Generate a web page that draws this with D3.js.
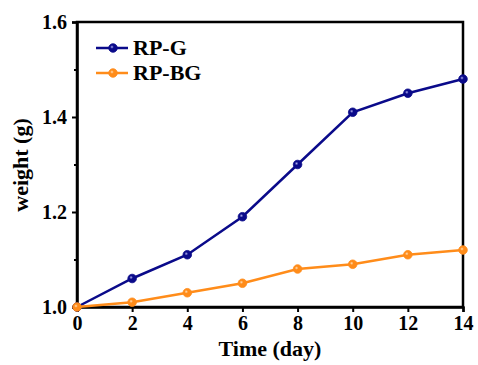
<!DOCTYPE html>
<html><head><meta charset="utf-8">
<script src="https://cdn.jsdelivr.net/npm/d3@7/dist/d3.min.js"></script>
<style>body{margin:0;background:#fff}svg{display:block}</style>
</head><body><svg id="c" width="478" height="365"></svg>
<script>
const days = [0, 2, 4, 6, 8, 10, 12, 14];
const rpG = [1.0, 1.06, 1.11, 1.19, 1.30, 1.41, 1.45, 1.48];
const rpBG = [1.0, 1.01, 1.03, 1.05, 1.08, 1.09, 1.11, 1.12];
const seriesNames = ["RP-G", "RP-BG"];
const xTicks = [0, 2, 4, 6, 8, 10, 12, 14];
const yTicks = [1.0, 1.2, 1.4, 1.6];
const yMinor = [1.1, 1.3, 1.5];
const colors = ["#0a0a8a", "#ff8c1a"];
const lights = ["#b0b0f0", "#ffe0b8"];
const FONT = "Liberation Serif";

const svg = d3.select("#c");
const m = {l: 77, r: 463, t: 22, b: 307};
const x = d3.scaleLinear().domain([0, 14]).range([m.l, m.r]);
const y = d3.scaleLinear().domain([1.0, 1.6]).range([m.b, m.t]);

const defs = svg.append("defs");
colors.forEach((c, i) => {
  const g = defs.append("radialGradient").attr("id", "g" + i).attr("cx", "38%").attr("cy", "38%").attr("r", "60%");
  g.append("stop").attr("offset", "0%").attr("stop-color", lights[i]);
  g.append("stop").attr("offset", "35%").attr("stop-color", c);
  g.append("stop").attr("offset", "100%").attr("stop-color", c);
});

svg.append("rect").attr("x", m.l).attr("y", m.t).attr("width", m.r - m.l).attr("height", m.b - m.t)
  .attr("fill", "none").attr("stroke", "#000").attr("stroke-width", 2.5);

const xAxis = svg.append("g").attr("transform", `translate(0,${m.b})`)
  .call(d3.axisBottom(x).tickValues(xTicks).tickSize(5).tickPadding(4).tickFormat(d3.format("d")));
const yAxis = svg.append("g").attr("transform", `translate(${m.l},0)`)
  .call(d3.axisLeft(y).tickValues(yTicks).tickSize(5).tickPadding(5).tickFormat(d3.format(".1f")));
svg.append("g").attr("transform", `translate(${m.l},0)`)
  .call(d3.axisLeft(y).tickValues(yMinor).tickSize(3).tickFormat(""))
  .call(g => g.select(".domain").remove())
  .selectAll("line").attr("stroke-width", 2);
[xAxis, yAxis].forEach(a => {
  a.attr("font-family", FONT).attr("font-size", 20).attr("font-weight", "bold");
  a.select(".domain").attr("stroke-width", 2.5);
  a.selectAll(".tick line").attr("stroke-width", 2);
  a.selectAll("text").attr("fill", "#000");
});

const data = [rpG, rpBG];
const line = d3.line().x((d, i) => x(days[i])).y(d => y(d));
data.forEach((s, k) => {
  svg.append("path").datum(s).attr("d", line).attr("fill", "none")
    .attr("stroke", colors[k]).attr("stroke-width", 2.5);
  svg.append("g").selectAll("circle").data(s).join("circle")
    .attr("cx", (d, i) => x(days[i])).attr("cy", d => y(d)).attr("r", 4.3)
    .attr("fill", `url(#g${k})`).attr("stroke", colors[k]).attr("stroke-width", 0.8);
});

seriesNames.forEach((n, k) => {
  const ly = 48 + k * 25;
  svg.append("line").attr("x1", 96).attr("x2", 128).attr("y1", ly).attr("y2", ly)
    .attr("stroke", colors[k]).attr("stroke-width", 2.5);
  svg.append("circle").attr("cx", 113).attr("cy", ly).attr("r", 4.3)
    .attr("fill", `url(#g${k})`).attr("stroke", colors[k]).attr("stroke-width", 0.8);
  svg.append("text").attr("x", 133).attr("y", ly + 7).attr("font-family", FONT)
    .attr("font-weight", "bold").attr("font-size", 22).text(n);
});

svg.append("text").attr("x", (m.l + m.r) / 2).attr("y", 356).attr("text-anchor", "middle")
  .attr("font-family", FONT).attr("font-weight", "bold").attr("font-size", 22).text("Time (day)");
svg.append("text").attr("transform", `translate(28,${165}) rotate(-90)`)
  .attr("text-anchor", "middle").attr("font-family", FONT).attr("font-weight", "bold")
  .attr("font-size", 22).text("weight (g)");
</script></body></html>
